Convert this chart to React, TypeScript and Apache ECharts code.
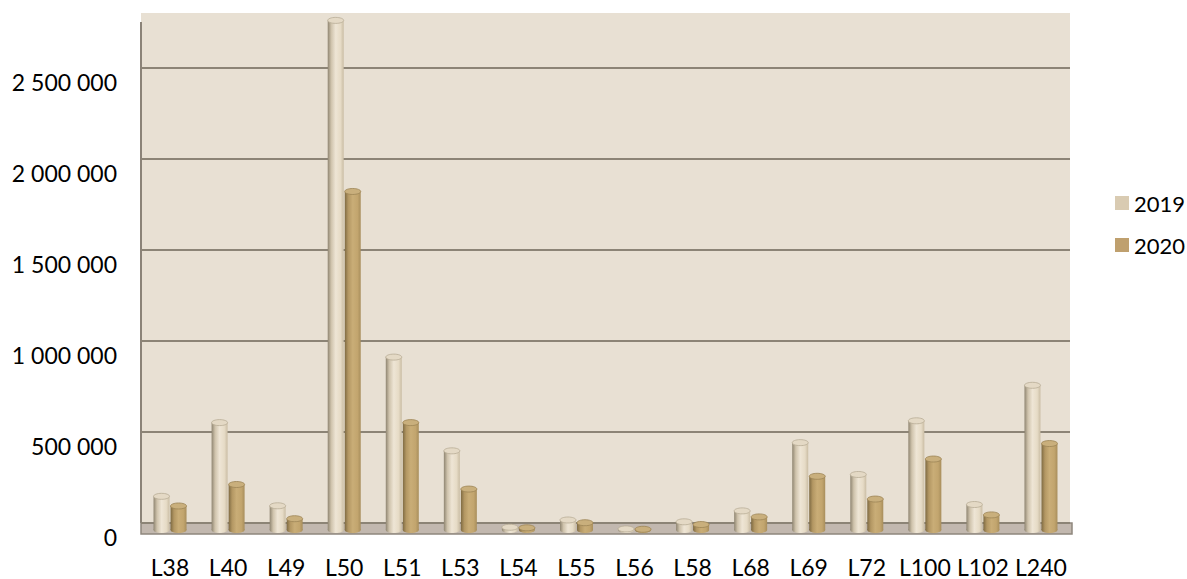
import React, { useEffect, useRef } from "react";
import * as echarts from "echarts";

const categories = ["L38", "L40", "L49", "L50", "L51", "L53", "L54", "L55", "L56", "L58", "L68", "L69", "L72", "L100", "L102", "L240"];
const values2019 = [185000, 590000, 133000, 2800000, 950000, 435000, 15000, 55000, 6000, 45000, 105000, 480000, 305000, 600000, 140000, 795000];
const values2020 = [132000, 250000, 62000, 1860000, 590000, 225000, 12000, 40000, 4000, 30000, 72000, 295000, 170000, 390000, 83000, 475000];
const seriesNames = ["2019", "2020"];
const yTicks = { min: 0, max: 2800000, interval: 500000 };

const FONT = "Lato, 'Open Sans', sans-serif";

const fmt = (v: number) => String(v).replace(/\B(?=(\d{3})+(?!\d))/g, " ");

export default function App() {
  const ref = useRef<HTMLDivElement>(null);
  useEffect(() => {
    if (!ref.current) return;
    const chart = echarts.init(ref.current, undefined, { renderer: "svg" });

    const bodyGrad = [
      new echarts.graphic.LinearGradient(0, 0, 1, 0, [
        { offset: 0, color: "#8F8571" },
        { offset: 0.22, color: "#CFC3AC" },
        { offset: 0.5, color: "#EEE5D5" },
        { offset: 0.8, color: "#E6DBC6" },
        { offset: 1, color: "#CABDA4" },
      ]),
      new echarts.graphic.LinearGradient(0, 0, 1, 0, [
        { offset: 0, color: "#7E6A42" },
        { offset: 0.22, color: "#B39763" },
        { offset: 0.5, color: "#C9AD77" },
        { offset: 0.8, color: "#C2A56E" },
        { offset: 1, color: "#A88E5C" },
      ]),
    ];
    const topFill = ["#E4D9C5", "#C9AF7C"];
    const topStroke = ["#B8AC96", "#9C8456"];
    const legendColors = ["#D9CBB2", "#BFA06E"];

    const makeRender = (si: number) => (params: any, api: any) => {
      const cat = api.value(0);
      const val = api.value(1);
      const base = api.coord([cat, 0]);
      const top = api.coord([cat, val]);
      const w = 16;
      const x0 = si === 0 ? base[0] - w - 0.5 : base[0] + 0.5;
      const cx = x0 + w / 2;
      return {
        type: "group",
        children: [
          { type: "ellipse", shape: { cx, cy: base[1], rx: w / 2, ry: 3 }, style: { fill: bodyGrad[si] } },
          { type: "rect", shape: { x: x0, y: top[1], width: w, height: Math.max(0, base[1] - top[1]) }, style: { fill: bodyGrad[si] } },
          { type: "ellipse", shape: { cx, cy: top[1], rx: w / 2, ry: 3 }, style: { fill: topFill[si], stroke: topStroke[si], lineWidth: 0.8 } },
        ],
      };
    };

    const H = (yTicks.max / 500000) * 91;
    const gridBase = { left: 141, right: 117, height: H };
    const lineCol = "#8C8476";

    const option: any = {
      animation: false,
      textStyle: { fontFamily: FONT },
      grid: [
        { ...gridBase, bottom: 579 - 523 },
        { ...gridBase, bottom: 579 - 530 },
        { ...gridBase, bottom: 579 - 537 },
      ],
      xAxis: [
        { type: "category", gridIndex: 0, data: categories, show: false },
        { type: "category", gridIndex: 1, data: categories, show: false },
        {
          type: "category",
          gridIndex: 2,
          data: categories,
          axisLine: { show: false },
          axisTick: { show: false },
          axisLabel: { color: "#000", fontSize: 23, fontFamily: FONT, margin: 18, interval: 0 },
        },
      ],
      yAxis: [
        {
          type: "value",
          gridIndex: 0,
          ...yTicks,
          z: 1,
          axisLine: { show: false },
          axisTick: { show: false },
          axisLabel: { show: false },
          splitLine: {
            show: true,
            lineStyle: { color: [lineCol, lineCol, lineCol, lineCol, lineCol, lineCol, "rgba(0,0,0,0)"], width: 2 },
          },
        },
        { type: "value", gridIndex: 1, ...yTicks, show: false },
        {
          type: "value",
          gridIndex: 2,
          ...yTicks,
          axisLine: { show: false },
          axisTick: { show: false },
          splitLine: { show: false },
          axisLabel: { color: "#000", fontSize: 23, fontFamily: FONT, margin: 24, formatter: fmt, showMaxLabel: false },
        },
      ],
      legend: {
        orient: "vertical",
        left: 1110,
        top: 187,
        itemWidth: 14,
        itemHeight: 14,
        itemGap: 20,
        icon: "rect",
        data: seriesNames,
        textStyle: { color: "#000", fontSize: 22, fontFamily: FONT },
      },
      graphic: [
        { type: "rect", z: 0, shape: { x: 141, y: 13, width: 929, height: 510 }, style: { fill: "#E8E0D3" } },
        { type: "line", z: 1, shape: { x1: 141, y1: 22, x2: 141, y2: 523 }, style: { stroke: "#8B8378", lineWidth: 2 } },
        { type: "rect", z: 1, shape: { x: 141, y: 523, width: 931, height: 11 }, style: { fill: "#C2B8AF", stroke: "#8F877D", lineWidth: 1.5 } },
      ],
      series: [values2019, values2020].map((vals, si) => ({
        type: "custom",
        name: seriesNames[si],
        xAxisIndex: 1,
        yAxisIndex: 1,
        z: 3,
        clip: false,
        itemStyle: { color: legendColors[si] },
        encode: { x: 0, y: 1 },
        data: vals.map((v, i) => [i, v]),
        renderItem: makeRender(si),
      })),
    };

    chart.setOption(option);
    return () => chart.dispose();
  }, []);

  return <div ref={ref} style={{ position: "fixed", left: 0, top: 0, width: 1187, height: 579, background: "#fff" }} />;
}
